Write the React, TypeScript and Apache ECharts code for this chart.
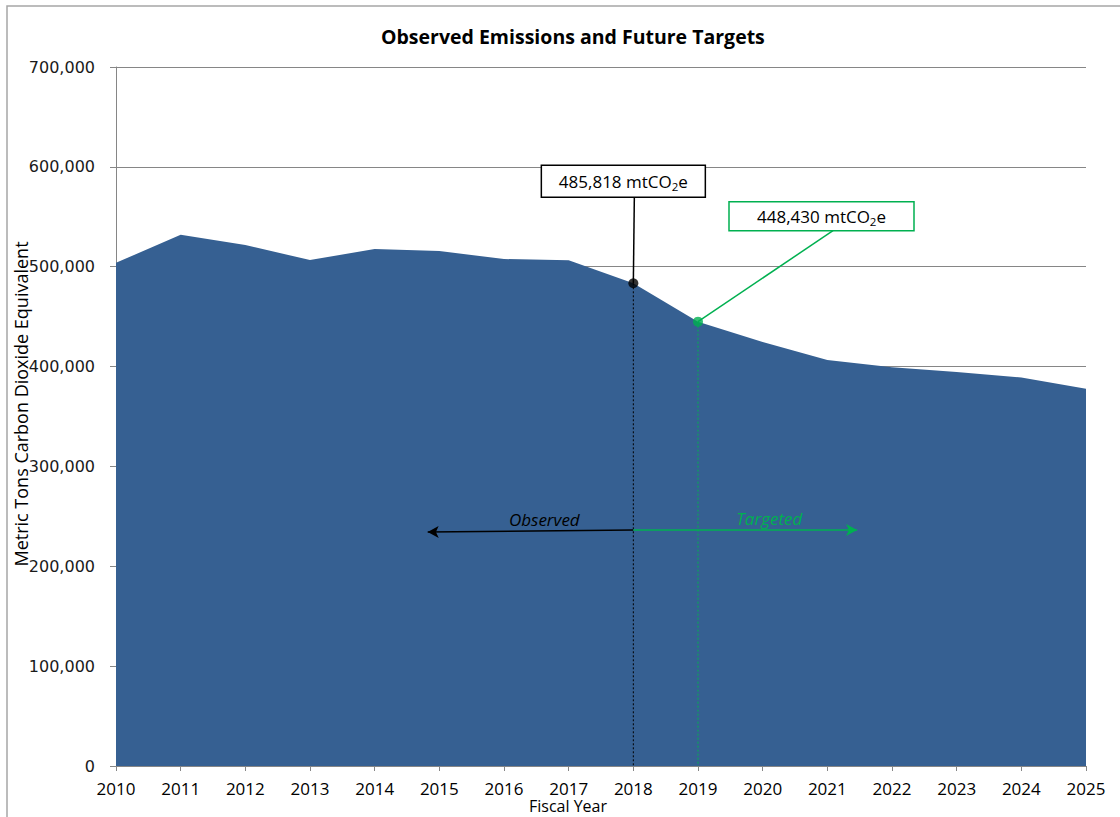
import React, { useEffect, useRef } from "react";
import * as echarts from "echarts";

const years = [2010, 2011, 2012, 2013, 2014, 2015, 2016, 2017, 2018, 2019, 2020, 2021, 2022, 2023, 2024, 2025];
const emissions = [503900, 532000, 521700, 506700, 517700, 515700, 507700, 506400, 483400, 445000, 424600, 406600, 399300, 394600, 389000, 377800];
const yTicks = [0, 100000, 200000, 300000, 400000, 500000, 600000, 700000];

const titleText = "Observed Emissions and Future Targets";
const xName = "Fiscal Year";
const yName = "Metric Tons Carbon Dioxide Equivalent";

const observedIndex = 8;
const targetIndex = 9;
const observedLabel = "485,818";
const targetLabel = "448,430";
const unitMain = "mtCO";
const unitSub = "2";
const unitEnd = "e";

const arrowStartYear = 2018;
const arrowStartValue = 236300;
const observedArrowEnd = [2014.82, 234300];
const targetArrowEnd = [2021.46, 236300];
const observedText = "Observed";
const targetText = "Targeted";

const BLUE = "#366092";
const GREEN = "#00b050";
const AXIS = "#868686";

export default function App() {
  const ref = useRef<HTMLDivElement>(null);
  useEffect(() => {
    const chart = echarts.init(ref.current!, null, { renderer: "svg" });
    const option: any = {
      animation: false,
      backgroundColor: "#fff",
      title: {
        text: titleText,
        left: 376,
        top: 21,
        textStyle: { fontFamily: "Open Sans", fontWeight: "bold", fontSize: 19.5, color: "#000" },
      },
      grid: { left: 116, right: 34, top: 67, bottom: 51, containLabel: false, outerBoundsMode: "none" },
      xAxis: {
        type: "value",
        min: years[0],
        max: years[years.length - 1],
        interval: 1,
        axisLine: { show: true, lineStyle: { color: AXIS, width: 1 } },
        axisTick: { show: true, length: 5, lineStyle: { color: AXIS } },
        splitLine: { show: false },
        axisLabel: {
          formatter: (v: number) => String(v),
          fontFamily: "Open Sans",
          fontSize: 17,
          color: "#000",
          margin: 13,
          lineHeight: 18,
        },
      },
      yAxis: {
        type: "value",
        min: yTicks[0],
        max: yTicks[yTicks.length - 1],
        interval: yTicks[1] - yTicks[0],
        axisLine: { show: true, lineStyle: { color: AXIS, width: 1 } },
        axisTick: { show: true, length: 6, lineStyle: { color: AXIS } },
        splitLine: { show: true, lineStyle: { color: AXIS, width: 1 } },
        axisLabel: {
          formatter: (v: number) => v.toLocaleString("en-US"),
          fontFamily: "DejaVu Sans",
          fontSize: 16,
          color: "#1a1a1a",
          margin: 21,
        },
      },
      series: [
        {
          type: "line",
          data: years.map((y, i) => [y, emissions[i]]),
          symbol: "none",
          lineStyle: { width: 0 },
          areaStyle: { color: BLUE, opacity: 1 },
          z: 2,
        },
        {
          type: "line",
          data: [
            [years[observedIndex], emissions[observedIndex]],
            [years[observedIndex], 0],
          ],
          symbol: "none",
          lineStyle: { color: "#000", width: 1, type: [2, 2] },
          z: 3,
          markLine: {
            silent: true,
            symbol: ["none", "arrow"],
            symbolSize: [9, 11],
            label: { show: false },
            lineStyle: { color: "#000", width: 1.5, type: "solid" },
            data: [[{ coord: [arrowStartYear, arrowStartValue] }, { coord: observedArrowEnd }]],
          },
        },
        {
          type: "line",
          data: [
            [years[targetIndex], emissions[targetIndex]],
            [years[targetIndex], 0],
          ],
          symbol: "none",
          lineStyle: { color: GREEN, width: 1, type: [2, 2] },
          z: 3,
          markLine: {
            silent: true,
            symbol: ["none", "arrow"],
            symbolSize: [9, 11],
            label: { show: false },
            lineStyle: { color: GREEN, width: 1.5, type: "solid" },
            data: [[{ coord: [arrowStartYear, arrowStartValue] }, { coord: targetArrowEnd }]],
          },
        },
        {
          type: "scatter",
          symbolSize: 10,
          z: 6,
          data: [
            { value: [years[observedIndex], emissions[observedIndex]], itemStyle: { color: "#000" } },
            { value: [years[targetIndex], emissions[targetIndex]], itemStyle: { color: GREEN } },
          ],
        },
      ],
    };
    chart.setOption(option);

    const p18 = chart.convertToPixel({ gridIndex: 0 }, [years[observedIndex], emissions[observedIndex]]) as number[];
    const p19 = chart.convertToPixel({ gridIndex: 0 }, [years[targetIndex], emissions[targetIndex]]) as number[];
    const pa = chart.convertToPixel({ gridIndex: 0 }, [arrowStartYear, arrowStartValue]) as number[];

    const bW = 164, bH = 32;
    const bx = p18[0] - 92, by = p18[1] - 118;
    const gW = 185, gH = 29;
    const gx = p19[0] + 31, gy = p19[1] - 120;

    const rich = (color: string) => ({
      m: { fontFamily: "Open Sans", fontSize: 17, color, lineHeight: 22, verticalAlign: "middle" },
      s: { fontFamily: "Open Sans", fontSize: 11.5, color, lineHeight: 22, verticalAlign: "bottom" },
    });

    chart.setOption({
      graphic: [
        {
          type: "rect",
          silent: true,
          shape: { x: 7, y: 6, width: 1300, height: 1000 },
          style: { fill: "none", stroke: "#a6a6a6", lineWidth: 1.5 },
          z: 0,
        },
        {
          type: "line",
          shape: { x1: p18[0] + 1, y1: by + bH, x2: p18[0], y2: p18[1] },
          style: { stroke: "#000", lineWidth: 1.5 },
          z: 99,
        },
        {
          type: "rect",
          shape: { x: bx, y: by, width: bW, height: bH },
          style: { fill: "#fff", stroke: "#000", lineWidth: 1.5 },
          z: 100,
        },
        {
          type: "text",
          x: bx + bW / 2,
          y: by + bH / 2,
          z: 101,
          style: {
            text: `{m|${observedLabel} ${unitMain}}{s|${unitSub}}{m|${unitEnd}}`,
            align: "center",
            verticalAlign: "middle",
            rich: rich("#000"),
          },
        },
        {
          type: "line",
          shape: { x1: gx + 104, y1: gy + gH, x2: p19[0], y2: p19[1] },
          style: { stroke: GREEN, lineWidth: 1.5 },
          z: 99,
        },
        {
          type: "rect",
          shape: { x: gx, y: gy, width: gW, height: gH },
          style: { fill: "#fff", stroke: GREEN, lineWidth: 1.5 },
          z: 100,
        },
        {
          type: "text",
          x: gx + gW / 2,
          y: gy + gH / 2,
          z: 101,
          style: {
            text: `{m|${targetLabel} ${unitMain}}{s|${unitSub}}{m|${unitEnd}}`,
            align: "center",
            verticalAlign: "middle",
            rich: rich(GREEN),
          },
        },
        {
          type: "text",
          x: pa[0] - 89,
          y: pa[1] - 11,
          z: 101,
          style: {
            text: observedText,
            fontFamily: "Open Sans",
            fontStyle: "italic",
            fontSize: 17,
            fill: "#000",
            align: "center",
            verticalAlign: "middle",
          },
        },
        {
          type: "text",
          x: pa[0] + 136,
          y: pa[1] - 12,
          z: 101,
          style: {
            text: targetText,
            fontFamily: "Open Sans",
            fontStyle: "italic",
            fontSize: 17,
            fill: GREEN,
            align: "center",
            verticalAlign: "middle",
          },
        },
        {
          type: "text",
          x: 568,
          y: 806,
          z: 101,
          style: {
            text: xName,
            fontFamily: "Open Sans",
            fontSize: 16,
            lineHeight: 17,
            fill: "#000",
            align: "center",
            verticalAlign: "middle",
          },
        },
        {
          type: "text",
          x: 21,
          y: 404,
          rotation: Math.PI / 2,
          z: 101,
          style: {
            text: yName,
            fontFamily: "Open Sans",
            fontSize: 18,
            fill: "#000",
            align: "center",
            verticalAlign: "middle",
          },
        },
      ],
    });
    return () => chart.dispose();
  }, []);
  return <div ref={ref} style={{ position: "fixed", left: 0, top: 0, width: 1120, height: 817 }} />;
}
